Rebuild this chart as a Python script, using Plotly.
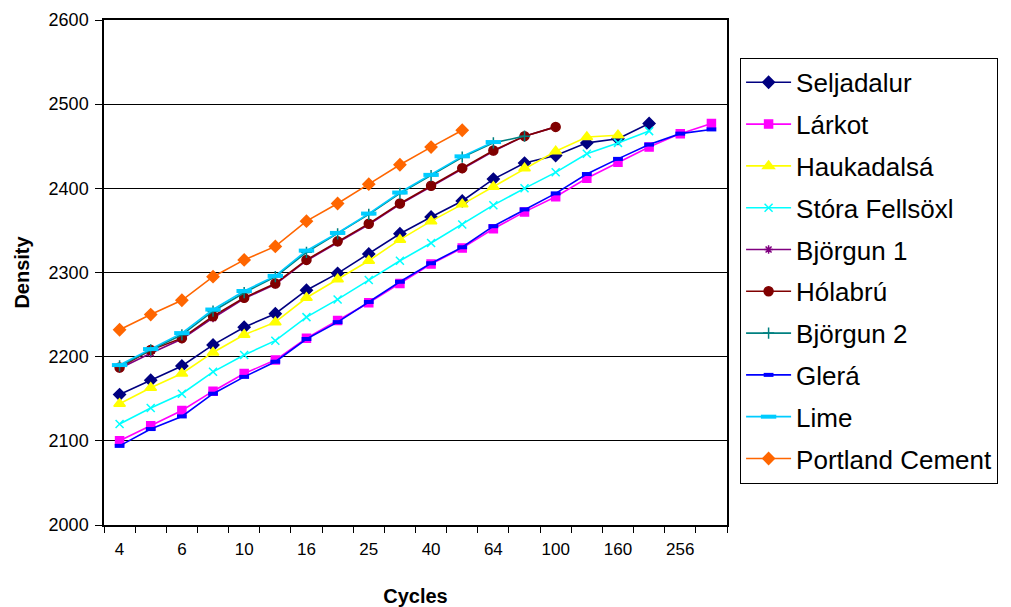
import plotly.graph_objects as go

cycles = ["4", "5", "6", "8", "10", "13", "16", "20", "25", "32",
          "40", "50", "64", "80", "100", "128", "160", "200", "256", "320"]

seljadalur = [2155, 2172, 2189, 2214, 2235, 2251, 2279, 2299, 2322, 2346,
              2366, 2385, 2411, 2430, 2439, 2454, 2459, 2477]
larkot = [2100, 2118, 2136, 2159, 2180, 2196, 2222, 2243, 2264, 2287,
          2310, 2329, 2352, 2372, 2390, 2412, 2431, 2449, 2465, 2477]
haukadalsa = [2144, 2163, 2180, 2205, 2226, 2241, 2270, 2292, 2314, 2339,
              2361, 2381, 2402, 2424, 2444, 2461, 2463]
stora = [2120, 2139, 2156, 2182, 2202, 2219, 2247, 2268, 2291, 2314,
         2335, 2357, 2380, 2400, 2419, 2441, 2454, 2468]
bjorgun1 = [2186, 2204, 2221, 2246, 2269, 2286, 2314, 2336, 2357, 2381,
            2402, 2423, 2444, 2462, 2473]
holabru = [2187, 2208, 2222, 2248, 2270, 2287, 2315, 2337, 2358, 2382,
           2403, 2424, 2445, 2462, 2473]
bjorgun2 = [2189, 2208, 2226, 2254, 2276, 2295, 2324, 2346, 2369, 2394,
            2415, 2437, 2454, 2462]
glera = [2094, 2114, 2129, 2156, 2176, 2194, 2221, 2241, 2265, 2289,
         2311, 2330, 2355, 2375, 2394, 2417, 2435, 2452, 2465, 2470]
lime = [2190, 2209, 2228, 2256, 2278, 2296, 2326, 2347, 2370, 2395,
        2416, 2438, 2455]
portland = [2232, 2250, 2267, 2295, 2315, 2331, 2361, 2382, 2405, 2428,
            2449, 2469]

series = [
    ("Seljadalur", seljadalur, "#000080", "diamond", 9),
    ("Lárkot", larkot, "#FF00FF", "square", 8),
    ("Haukadalsá", haukadalsa, "#FFFF00", "triangle-up", 10),
    ("Stóra Fellsöxl", stora, "#00FFFF", "x-thin-open", 8),
    ("Björgun 1", bjorgun1, "#800080", "asterisk-open", 7),
    ("Hólabrú", holabru, "#800000", "circle", 9),
    ("Björgun 2", bjorgun2, "#008080", "cross-thin-open", 8),
    ("Glerá", glera, "#0000FF", "line-ew-open", 7),
    ("Lime", lime, "#00CCFF", "line-ew-open", 11),
    ("Portland Cement", portland, "#FF6600", "diamond", 9),
]

idx = list(range(len(cycles)))
fig = go.Figure()
for i, (name, vals, color, sym, size) in enumerate(series):
    lw = 4 if sym == "line-ew-open" else 1.5
    fig.add_trace(go.Scatter(
        x=idx[:len(vals)], y=vals, name=name, mode="lines+markers",
        line=dict(color=color, width=1.6),
        marker=dict(symbol=sym, size=size, color=color,
                    line=dict(color=color, width=lw)),
        legendgroup=f"g{i}",
    ))

fig.update_layout(
    width=1011, height=607,
    margin=dict(l=96, r=292, t=12, b=90, autoexpand=False),
    paper_bgcolor="white", plot_bgcolor="white",
    font=dict(family="Liberation Sans, Arial, sans-serif", color="black"),
    showlegend=True,
    legend=dict(
        x=1.021, xanchor="left", y=0.925, yanchor="top",
        bordercolor="black", borderwidth=1, bgcolor="white",
        font=dict(size=26, family="Liberation Sans, Arial, sans-serif"),
        tracegroupgap=5, itemwidth=45,
    ),
)

fig.update_xaxes(
    automargin=False,
    range=[-0.5, len(cycles) - 0.5],
    tickmode="array", tickvals=idx[::2], ticktext=cycles[::2],
    ticks="", showgrid=False, zeroline=False, ticklabelstandoff=8,
    showline=True, linecolor="black", linewidth=1.5, mirror=True,
    tickfont=dict(size=17),
    minor=dict(ticks="outside", ticklen=6, tickcolor="black", tickwidth=1,
               tickmode="array", tickvals=[v - 0.5 for v in range(len(cycles) + 1)],
               showgrid=False),
    title=dict(text="<b>Cycles</b>", font=dict(size=20), standoff=31),
)
fig.update_yaxes(
    automargin=False,
    range=[2000, 2600], dtick=100, tick0=2000,
    ticks="outside", ticklen=7, tickcolor="black", ticklabelstandoff=3,
    showgrid=True, gridcolor="black", gridwidth=1.2, zeroline=False,
    showline=True, linecolor="black", linewidth=1.5, mirror=True,
    tickfont=dict(size=18),
    title=dict(text="<b>Density</b>", font=dict(size=20), standoff=14),
)

fig.write_html("out.html")
